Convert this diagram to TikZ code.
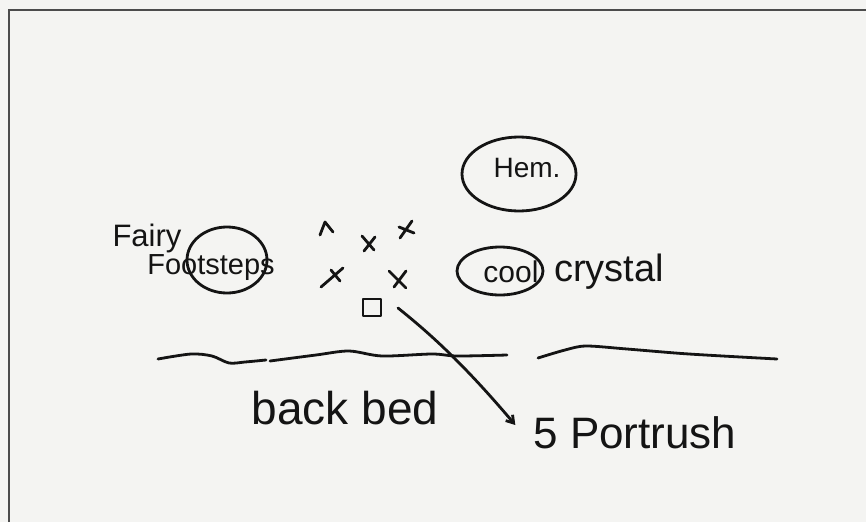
\documentclass[tikz,border=0pt]{standalone}
\usepackage{fontspec}
\setmainfont{Liberation Sans}
\usetikzlibrary{arrows.meta}

\definecolor{paper}{RGB}{244,244,242}
\definecolor{ink}{RGB}{20,20,20}

\tikzset{
  hand/.style={ink, line width=2.8pt, line cap=round, line join=round},
  lbl/.style={ink, inner sep=0pt, anchor=center},
}

\begin{document}
\begin{tikzpicture}[x=1pt,y=-1pt]

\fill[paper] (0,0) rectangle (866,522);
\useasboundingbox (0,0) rectangle (866,522);

% frame of the sheet
\draw[gray!60!black, line width=1.6pt] (9,522)--(9,10)--(866,10);

% labels
\node[lbl, font=\fontsize{31}{31}\selectfont] (fairy) at (147,238) {Fairy};
\node[lbl, font=\fontsize{29}{29}\selectfont] (footsteps) at (211,268) {Footsteps};
\node[lbl, font=\fontsize{28}{28}\selectfont] (hem) at (527,168) {Hem.};
\node[lbl, font=\fontsize{30}{30}\selectfont] (cool) at (511,272) {cool};
\node[lbl, font=\fontsize{38}{38}\selectfont] (crystal) at (609,272) {crystal};
\node[lbl, font=\fontsize{46}{46}\selectfont] (backbed) at (345,408) {back bed};
\node[lbl, font=\fontsize{44}{44}\selectfont] (portrush) at (635,433) {5 Portrush};

% rings
\draw[hand] (227,260) ellipse [x radius=40, y radius=33];
\draw[hand] (519,174) ellipse [x radius=57, y radius=37];
\draw[hand] (500,271) ellipse [x radius=43, y radius=24];

% plants
\draw[hand] (320,235)--(325,222)--(333,232);
\draw[hand] (362,236)--(374,250) (364,251)--(375,237);
\draw[hand] (400,238)--(412,221) (399,227)--(414,233);
\draw[hand] (321,287)--(343,268) (331,270)--(340,281);
\draw[hand] (389,271)--(406,288) (394,287)--(406,271);
\draw[hand] (363,299) rectangle (381,316);

% bed edge
\draw[hand] plot[smooth] coordinates {(158,359) (191,354) (212,356) (229,363) (245,362) (266,360)};
\draw[hand] plot[smooth] coordinates {(270,361) (316,355) (349,351) (382,356) (432,354) (457,356) (507,355)};
\draw[hand] plot[smooth] coordinates {(538,358) (565,350) (586,346) (627,349) (689,354) (777,359)};

% pointer
\coordinate (start) at (398,308);
\draw[hand, -{Straight Barb[length=7pt, width=9pt]}] (start) .. controls (428,332) and (462,362) .. ([xshift=-18pt,yshift=8pt]portrush.west);

\end{tikzpicture}
\end{document}
